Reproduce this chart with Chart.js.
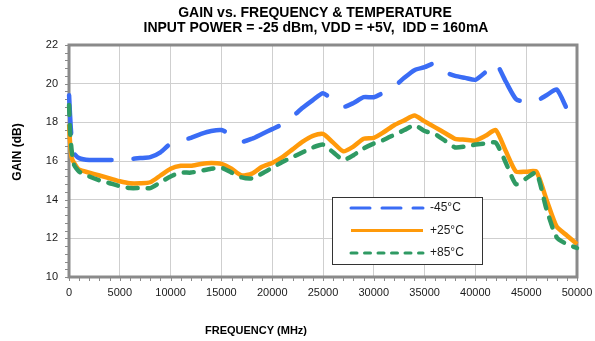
<!DOCTYPE html>
<html>
<head>
<meta charset="utf-8">
<script src="https://cdn.jsdelivr.net/npm/chart.js@4"></script>
<style>
  html, body { margin: 0; padding: 0; background: #fff; }
  #wrap { width: 595px; height: 341px; }
</style>
</head>
<body>
<div id="wrap"><canvas id="chart" width="595" height="341"></canvas></div>
<script>
const TITLE_LINES = ['GAIN vs. FREQUENCY & TEMPERATURE', 'INPUT POWER = -25 dBm, VDD = +5V,  IDD = 160mA'];
const X_TITLE = 'FREQUENCY (MHz)';
const Y_TITLE = 'GAIN (dB)';
const SERIES_LABELS = ['-45°C', '+25°C', '+85°C'];

// frequency points (MHz), shared by all three curves
const FREQ_MHZ = [
  10, 100, 250, 500, 1000, 2000, 3000, 4000, 5000, 6000,
  7000, 8000, 9000, 10000, 11000, 12000, 13000, 14000, 15000, 16000,
  17000, 18000, 19000, 20000, 21000, 22000, 23000, 24000, 25000, 26000,
  27000, 28000, 29000, 30000, 31000, 32000, 33000, 34000, 35000, 36000,
  37000, 38000, 39000, 40000, 41000, 42000, 43000, 44000, 45000, 46000,
  47000, 48000, 49000, 50000
];

const GAIN_M45 = [
  19.4, 18.4, 17.2, 16.4, 16.15, 16.05, 16.05, 16.05, 16.05, 16.1,
  16.15, 16.2, 16.45, 16.9, 17.05, 17.2, 17.4, 17.55, 17.6, 17.35,
  17.0, 17.15, 17.4, 17.65, 17.9, 18.3, 18.75, 19.15, 19.5, 19.15,
  18.8, 19.0, 19.3, 19.3, 19.55, 19.85, 20.3, 20.7, 20.85, 21.05,
  20.6, 20.4, 20.3, 20.2, 20.6, 21.05, 20.1, 19.2, 19.05, 19.1,
  19.4, 19.7, 18.7, null
];

const GAIN_P25 = [
  17.9, 17.0, 16.2, 15.9, 15.55, 15.4, 15.25, 15.1, 14.95, 14.85,
  14.85, 14.9, 15.25, 15.6, 15.75, 15.75, 15.85, 15.9, 15.85, 15.6,
  15.25, 15.35, 15.7, 15.9, 16.2, 16.6, 17.0, 17.3, 17.4, 16.95,
  16.5, 16.75, 17.15, 17.2, 17.5, 17.85, 18.1, 18.35, 18.05, 17.75,
  17.45, 17.15, 17.1, 17.05, 17.3, 17.6, 16.5, 15.45, 15.45, 15.45,
  14.0, 12.6, 12.15, 11.7
];

const GAIN_P85 = [
  18.9, 17.6, 16.6, 15.8, 15.45, 15.2, 15.0, 14.85, 14.7, 14.6,
  14.6, 14.6, 14.9, 15.2, 15.4, 15.4, 15.5, 15.6, 15.65, 15.4,
  15.15, 15.1, 15.35, 15.65, 15.95, 16.2, 16.45, 16.7, 16.85, 16.45,
  16.05, 16.3, 16.65, 16.9, 17.1, 17.35, 17.6, 17.85, 17.55, 17.4,
  17.05, 16.7, 16.75, 16.85, 16.9, 16.95, 15.9, 14.8, 15.1, 15.4,
  13.5, 12.05, 11.7, 11.5
];

const X_TICKS = [0, 5000, 10000, 15000, 20000, 25000, 30000, 35000, 40000, 45000, 50000];
const Y_TICKS = [10, 12, 14, 16, 18, 20, 22];

const FONT = '"Liberation Sans", Arial, sans-serif';
const TEXT_COLOR = '#1a1a1a';
const FRAME_COLOR = '#8a8a8a';
const GRID_COLOR = '#cfcfcf';

function toPoints(values) {
  return FREQ_MHZ.map((f, i) => ({ x: f, y: values[i] }));
}

// outer frame plus the small tick marks along the left and bottom edges
const framePlugin = {
  id: 'frame',
  beforeDatasetsDraw(chart) {
    const { ctx, chartArea: a, scales } = chart;
    ctx.save();
    ctx.strokeStyle = FRAME_COLOR;
    ctx.lineWidth = 1;
    for (let v = 0; v <= 50000; v += 1000) {
      const px = Math.round(scales.x.getPixelForValue(v)) + 0.5;
      ctx.beginPath();
      ctx.moveTo(px, a.bottom);
      ctx.lineTo(px, a.bottom + 4);
      ctx.stroke();
    }
    for (let i = 0; i <= 30; i++) {
      const py = Math.round(scales.y.getPixelForValue(10 + i * 0.4)) + 0.5;
      ctx.beginPath();
      ctx.moveTo(a.left - 4, py);
      ctx.lineTo(a.left, py);
      ctx.stroke();
    }
    ctx.lineWidth = 3;
    ctx.strokeRect(a.left, a.top, a.right - a.left, a.bottom - a.top);
    ctx.restore();
  }
};

const textPlugin = {
  id: 'texts',
  afterDraw(chart) {
    const { ctx, chartArea: a } = chart;
    ctx.save();
    ctx.fillStyle = '#000';
    ctx.textAlign = 'center';
    ctx.textBaseline = 'alphabetic';
    ctx.font = `bold 14px ${FONT}`;
    ctx.fillText(TITLE_LINES[0], a.left + 246, 17);
    ctx.fillText(TITLE_LINES[1], a.left + 247, 32);

    ctx.font = `bold 11px ${FONT}`;
    ctx.fillText(X_TITLE, a.left + 187, 334);

    ctx.translate(18, 152);
    ctx.rotate(-Math.PI / 2);
    ctx.font = `bold 12px ${FONT}`;
    ctx.textBaseline = 'middle';
    ctx.fillText(Y_TITLE, 0, 0);
    ctx.restore();
  }
};

const legendPlugin = {
  id: 'boxLegend',
  afterDraw(chart, args, opts) {
    const { ctx } = chart;
    const { left, top, width, height, rowGap, lineX, lineLen, textX } = opts;
    ctx.save();
    ctx.fillStyle = '#fff';
    ctx.fillRect(left, top, width, height);
    ctx.strokeStyle = '#333';
    ctx.lineWidth = 1;
    ctx.strokeRect(left + 0.5, top + 0.5, width, height);
    chart.data.datasets.forEach((ds, i) => {
      const y = top + 11 + i * rowGap;
      ctx.strokeStyle = ds.borderColor;
      ctx.lineWidth = 3;
      ctx.lineCap = ds.borderDash.length ? 'round' : 'butt';
      ctx.setLineDash(ds.legendDash);
      ctx.beginPath();
      ctx.moveTo(lineX, y);
      ctx.lineTo(lineX + lineLen, y);
      ctx.stroke();
      ctx.setLineDash([]);
      ctx.fillStyle = TEXT_COLOR;
      ctx.font = `12px ${FONT}`;
      ctx.textAlign = 'left';
      ctx.textBaseline = 'middle';
      ctx.fillText(ds.label, textX, y);
    });
    ctx.restore();
  }
};

const lineBase = {
  borderWidth: 4.5,
  pointRadius: 0,
  pointHoverRadius: 0,
  tension: 0.2,
  fill: false,
  clip: false,
  spanGaps: false
};

new Chart(document.getElementById('chart'), {
  type: 'line',
  data: {
    datasets: [
      {
        ...lineBase,
        label: SERIES_LABELS[0],
        data: toPoints(GAIN_M45),
        borderColor: '#3a6cf5',
        borderDash: [38, 22],
        borderDashOffset: 0,
        borderCapStyle: 'round',
        legendDash: [19, 12],
        order: 3
      },
      {
        ...lineBase,
        label: SERIES_LABELS[1],
        data: toPoints(GAIN_P25),
        borderColor: '#ff9a0a',
        borderDash: [],
        borderCapStyle: 'butt',
        legendDash: [],
        order: 2
      },
      {
        ...lineBase,
        label: SERIES_LABELS[2],
        data: toPoints(GAIN_P85),
        borderColor: '#2f9a63',
        borderDash: [10, 10],
        borderCapStyle: 'round',
        legendDash: [6, 7.5],
        order: 1
      }
    ]
  },
  options: {
    responsive: false,
    animation: false,
    events: [],
    layout: { padding: { left: 29, right: 18, top: 45, bottom: 0 } },
    plugins: {
      legend: { display: false },
      title: { display: false },
      tooltip: { enabled: false },
      boxLegend: {
        left: 332, top: 197, width: 150, height: 67,
        rowGap: 22.5, lineX: 351, lineLen: 72, textX: 430
      }
    },
    scales: {
      x: {
        type: 'linear',
        min: 0,
        max: 50000,
        afterFit: (s) => { s.height = 64; s.paddingLeft = 0; s.paddingRight = 0; },
        afterBuildTicks: (s) => { s.ticks = X_TICKS.map(v => ({ value: v })); },
        grid: { color: GRID_COLOR, drawTicks: false },
        border: { display: false },
        ticks: {
          color: TEXT_COLOR,
          font: { family: FONT, size: 11 },
          padding: 9,
          maxRotation: 0,
          autoSkip: false,
          callback: (v) => String(v)
        }
      },
      y: {
        min: 10,
        max: 22,
        afterFit: (s) => { s.width = 40; s.paddingTop = 0; s.paddingBottom = 0; },
        afterBuildTicks: (s) => { s.ticks = Y_TICKS.map(v => ({ value: v })); },
        grid: { color: GRID_COLOR, drawTicks: false },
        border: { display: false },
        ticks: {
          color: TEXT_COLOR,
          font: { family: FONT, size: 11 },
          padding: 11,
          callback: (v) => String(v)
        }
      }
    }
  },
  plugins: [framePlugin, legendPlugin, textPlugin]
});
</script>
</body>
</html>
